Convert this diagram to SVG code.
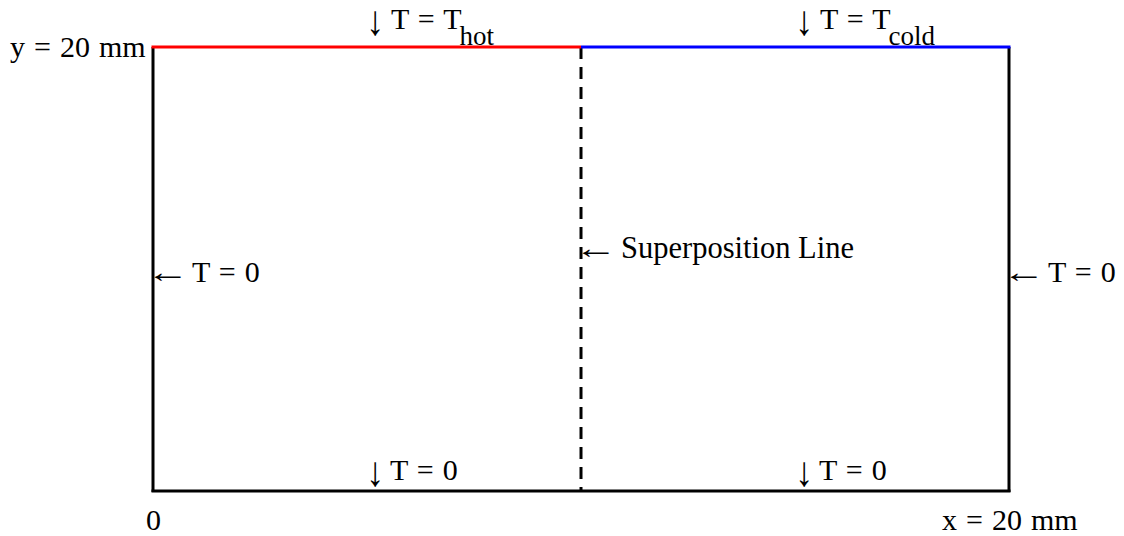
<svg xmlns="http://www.w3.org/2000/svg" width="1124" height="536" viewBox="0 0 1124 536">
<style>
.edge{stroke:#000;stroke-width:3;fill:none}
.t{font-family:"Liberation Serif","Times New Roman",serif;font-size:30px;fill:#000;word-spacing:1.5px}
.s{font-size:30.5px;word-spacing:0}
.sub{font-size:27px}
.ar{font-family:"Liberation Serif","Times New Roman",serif;font-size:30px;fill:#000}
</style>
<rect width="1124" height="536" fill="#fff"/>
<g id="connectors">
<line class="edge" x1="153" y1="47" x2="153" y2="492"/>
<line class="edge" x1="1009" y1="47" x2="1009" y2="492"/>
<line class="edge" x1="151.5" y1="491" x2="1010.5" y2="491"/>
<line x1="581" y1="47" x2="581" y2="491" stroke="#000" stroke-width="3" stroke-dasharray="12,8"/>
<line x1="151.5" y1="47" x2="581" y2="47" stroke="#f00" stroke-width="3"/>
<line x1="581" y1="47" x2="1010.5" y2="47" stroke="#00f" stroke-width="3"/>
</g>
<g id="label-y"><text class="t" x="10" y="57">y = 20 mm</text></g>
<g id="label-hot"><text class="ar" transform="translate(366,35) scale(1.2,1.4)">↓</text><text class="t" x="391" y="29">T = T<tspan class="sub" dx="-2" dy="16">hot</tspan></text></g>
<g id="label-cold"><text class="ar" transform="translate(795,35) scale(1.2,1.4)">↓</text><text class="t" x="820" y="29">T = T<tspan class="sub" dx="-2" dy="16">cold</tspan></text></g>
<g id="label-left"><text class="ar" transform="translate(146,282) scale(1.45,1)">←</text><text class="t" x="192" y="282">T = 0</text></g>
<g id="label-super"><text class="ar" transform="translate(574,258) scale(1.45,1)">←</text><text class="t s" x="621" y="258">Superposition Line</text></g>
<g id="label-right"><text class="ar" transform="translate(1002,282) scale(1.45,1)">←</text><text class="t" x="1048" y="282">T = 0</text></g>
<g id="label-bottom-left"><text class="ar" transform="translate(366,486) scale(1.2,1.4)">↓</text><text class="t" x="390" y="480">T = 0</text></g>
<g id="label-bottom-right"><text class="ar" transform="translate(795,486) scale(1.2,1.4)">↓</text><text class="t" x="819" y="480">T = 0</text></g>
<g id="label-origin"><text class="t" x="146" y="530">0</text></g>
<g id="label-x"><text class="t" x="942" y="530">x = 20 mm</text></g>
</svg>
